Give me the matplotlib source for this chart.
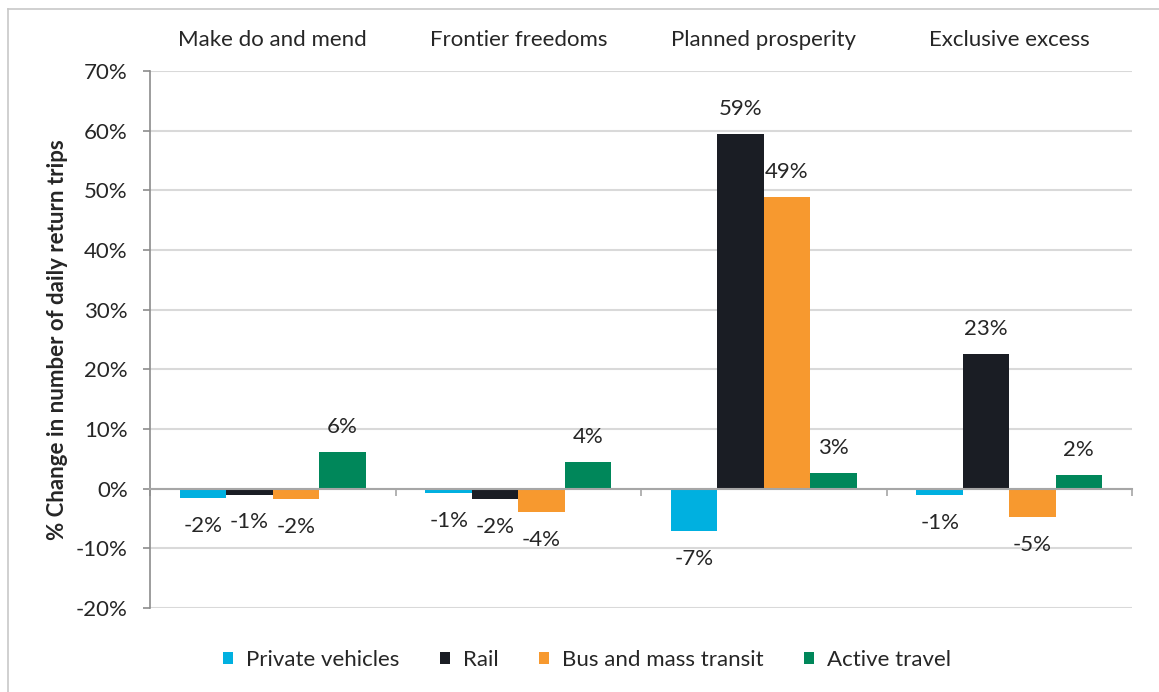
import matplotlib.pyplot as plt
import numpy as np
from matplotlib.lines import Line2D

plt.rcParams['font.family'] = ['Lato', 'DejaVu Sans']

# scenario groups and travel modes
scenarios = ["Make do and mend", "Frontier freedoms", "Planned prosperity", "Exclusive excess"]
modes = ["Private vehicles", "Rail", "Bus and mass transit", "Active travel"]

# % change in daily return trips, one list per mode
private_vehicles = [-1.6, -0.8, -7.05, -1.1]
rail             = [-1.0, -1.7, 59.4, 22.6]
bus_mass_transit = [-1.8, -3.9, 48.8, -4.8]
active_travel    = [6.2, 4.4, 2.6, 2.35]

colors = ["#00B0E0", "#1A1D24", "#F7992F", "#00875A"]
text_col = "#262626"
fs = 16

fig = plt.figure(figsize=(11.59, 6.92), dpi=100)
ax = fig.add_axes([150 / 1159, 1 - 608 / 692, 982 / 1159, 537 / 692])

x = np.arange(len(scenarios))
w = 0.189
series = [private_vehicles, rail, bus_mass_transit, active_travel]
for i, (vals, name, c) in enumerate(zip(series, modes, colors)):
    pos = x + (i - 1.5) * w
    ax.bar(pos, vals, width=w, color=c, label=name, zorder=3)
    for px, v in zip(pos, vals):
        off = 18 if v >= 0 else -20
        ax.annotate(f"{v:.0f}%", (px, v), xytext=(0, off), textcoords="offset points",
                    ha="center", va="center", fontsize=fs, color=text_col)

ax.set_xlim(-0.5, 3.5)
ax.set_ylim(-20, 70)
ax.set_yticks(np.arange(-20, 71, 10))
ax.set_yticklabels([f"{t}%" for t in range(-20, 71, 10)])
ax.yaxis.grid(True, color="#D9D9D9", linewidth=1.5, zorder=0)
ax.set_axisbelow(True)

for s in ["top", "right"]:
    ax.spines[s].set_visible(False)
ax.spines["left"].set_color("#8C8C8C")
ax.spines["left"].set_linewidth(1.2)
ax.spines["bottom"].set_position(("data", 0))
ax.spines["bottom"].set_color("#A6A6A6")
ax.spines["bottom"].set_linewidth(1.5)
ax.spines["bottom"].set_zorder(4)

ax.set_xticks(np.arange(-0.5, 4, 1))
ax.set_xticklabels([])
ax.tick_params(axis="x", direction="out", length=5, color="#A6A6A6", width=1.2)
ax.tick_params(axis="y", direction="out", length=5, color="#8C8C8C", width=1.2,
               labelsize=fs, labelcolor=text_col, pad=11)

for i, name in enumerate(scenarios):
    ax.text(i, 1 + 31 / 537, name, transform=ax.get_xaxis_transform(),
            ha="center", va="center", fontsize=fs, color=text_col)

ax.set_ylabel("% Change in number of daily return trips", fontsize=fs,
              fontweight="bold", color=text_col, va="center")
ax.yaxis.set_label_coords((58 - 150) / 982, 0.5)

fig.legend(loc="center", bbox_to_anchor=(587 / 1159, 1 - 660 / 692), ncol=4,
           frameon=False, fontsize=fs, handlelength=0.45, handleheight=0.45,
           handletextpad=0.6, columnspacing=1.8, labelcolor=text_col)

# outer chart border (top and left edges)
fig.add_artist(Line2D([8 / 1159, 8 / 1159], [0, 1 - 9 / 692], color="#C8C8C8", lw=1.2))
fig.add_artist(Line2D([8 / 1159, 1], [1 - 9 / 692, 1 - 9 / 692], color="#C8C8C8", lw=1.2))

fig.savefig("out.png", dpi=100)
